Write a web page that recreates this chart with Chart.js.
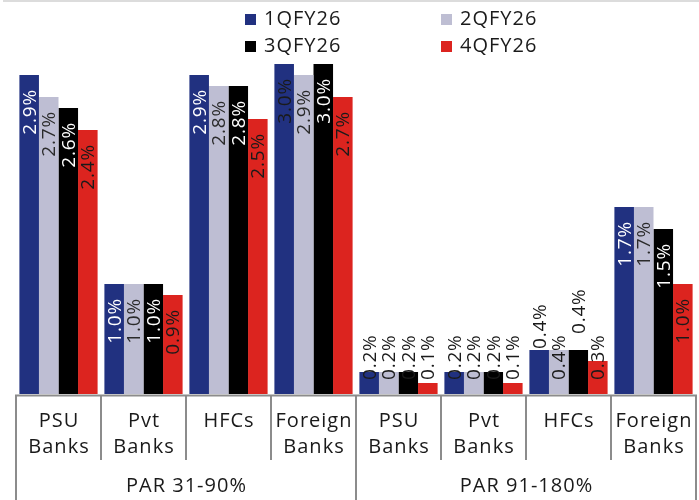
<!DOCTYPE html>
<html>
<head>
<meta charset="utf-8">
<script src="https://cdn.jsdelivr.net/npm/chart.js@4"></script>
<style>
  html, body { margin: 0; padding: 0; background: #fff; }
  #wrap { width: 699px; height: 500px; position: relative; }
</style>
</head>
<body>
<div id="wrap"><canvas id="chart" width="699" height="500"></canvas></div>
<script>
// Category labels (two lines each) and the two PAR buckets they belong to
const categories = [
  ['PSU', 'Banks'], ['Pvt', 'Banks'], ['HFCs'], ['Foreign', 'Banks'],
  ['PSU', 'Banks'], ['Pvt', 'Banks'], ['HFCs'], ['Foreign', 'Banks']
];
const groupLabels = ['PAR 31-90%', 'PAR 91-180%'];
const groupSize = 4;

// Quarterly series (%)
const seriesNames = ['1QFY26', '2QFY26', '3QFY26', '4QFY26'];
const q1FY26 = [2.9, 1.0, 2.9, 3.0, 0.2, 0.2, 0.4, 1.7];
const q2FY26 = [2.7, 1.0, 2.8, 2.9, 0.2, 0.2, 0.4, 1.7];
const q3FY26 = [2.6, 1.0, 2.8, 3.0, 0.2, 0.2, 0.4, 1.5];
const q4FY26 = [2.4, 0.9, 2.5, 2.7, 0.1, 0.1, 0.3, 1.0];

const seriesColors = ['#213180', '#bebed3', '#000000', '#dc241f'];
const labelColors = ['#ffffff', '#2a2a2a', '#ffffff', '#1a1a1a'];
const darkText = '#1a1a1a';
const FONT = '"Open Sans", Lato, sans-serif';

// Value labels drawn above their bar instead of inside: "dataset-index" -> gap in px
const labelsAbove = { '0-6': 1, '2-6': 16 };
const labelColorOverride = { '0-3': darkText };

function setSpacing(ctx, px) {
  if ('letterSpacing' in ctx) ctx.letterSpacing = px + 'px';
}

const valueLabels = {
  id: 'valueLabels',
  afterDatasetsDraw(chart) {
    const ctx = chart.ctx;
    ctx.save();
    ctx.font = '19px ' + FONT;
    setSpacing(ctx, 0.8);
    ctx.textAlign = 'left';
    ctx.textBaseline = 'middle';
    chart.data.datasets.forEach((ds, di) => {
      const meta = chart.getDatasetMeta(di);
      meta.data.forEach((bar, i) => {
        const text = ds.data[i].toFixed(1) + '%';
        const w = ctx.measureText(text).width;
        const top = bar.y;
        const base = bar.base;
        const key = di + '-' + i;
        let bottom, color;
        if (key in labelsAbove) {
          bottom = top - labelsAbove[key];
          color = darkText;
        } else {
          bottom = top + 14 + w;
          color = labelColors[di];
          if (bottom > base - 14) {
            bottom = base - 14;
            color = darkText;
          }
        }
        if (key in labelColorOverride) color = labelColorOverride[key];
        ctx.save();
        ctx.translate(bar.x + 1, bottom);
        ctx.rotate(-Math.PI / 2);
        ctx.fillStyle = color;
        ctx.fillText(text, 0, 0);
        ctx.restore();
      });
    });
    ctx.restore();
  }
};

const categoryAxis = {
  id: 'categoryAxis',
  afterDraw(chart) {
    const ctx = chart.ctx;
    const x = chart.scales.x;
    const area = chart.chartArea;
    const n = categories.length;
    const step = x.getPixelForValue(1) - x.getPixelForValue(0);
    const axisY = area.bottom + 1.5;
    ctx.save();
    // faint rule along the top edge
    ctx.strokeStyle = '#dcdcdc';
    ctx.lineWidth = 2;
    ctx.beginPath();
    ctx.moveTo(3, 1);
    ctx.lineTo(699, 1);
    ctx.stroke();

    ctx.strokeStyle = '#8c8c8c';
    ctx.lineWidth = 2;
    ctx.beginPath();
    ctx.moveTo(x.getPixelForValue(0) - step / 2 - 1, axisY);
    ctx.lineTo(x.getPixelForValue(n - 1) + step / 2 + 1, axisY);
    ctx.stroke();
    for (let i = 0; i <= n; i++) {
      const px = Math.round(x.getPixelForValue(i) - step / 2);
      const isGroupEdge = i % groupSize === 0;
      ctx.beginPath();
      ctx.moveTo(px, axisY);
      ctx.lineTo(px, isGroupEdge ? 500 : 460);
      ctx.stroke();
    }
    ctx.fillStyle = '#1a1a1a';
    ctx.font = '20px ' + FONT;
    setSpacing(ctx, 1);
    ctx.textAlign = 'center';
    ctx.textBaseline = 'alphabetic';
    categories.forEach((lines, i) => {
      const cx = x.getPixelForValue(i) + 0.5;
      lines.forEach((t, li) => ctx.fillText(t, cx, 427 + li * 26));
    });
    groupLabels.forEach((g, gi) => {
      const first = x.getPixelForValue(gi * groupSize);
      const last = x.getPixelForValue(gi * groupSize + groupSize - 1);
      ctx.fillText(g, (first + last) / 2 + 0.5, 492);
    });
    ctx.restore();
  }
};

const squareLegend = {
  id: 'squareLegend',
  afterDraw(chart) {
    const ctx = chart.ctx;
    const cols = [245, 441];
    const rows = [14, 41];
    ctx.save();
    ctx.font = '20px ' + FONT;
    setSpacing(ctx, 1);
    ctx.textBaseline = 'middle';
    ctx.textAlign = 'left';
    chart.data.datasets.forEach((ds, i) => {
      const lx = cols[i % 2];
      const ly = rows[Math.floor(i / 2)];
      ctx.fillStyle = ds.backgroundColor;
      ctx.fillRect(lx, ly, 11, 11);
      ctx.fillStyle = '#1a1a1a';
      ctx.fillText(ds.label, lx + 19, ly + 5);
    });
    ctx.restore();
  }
};

const seriesData = [q1FY26, q2FY26, q3FY26, q4FY26];

new Chart(document.getElementById('chart'), {
  type: 'bar',
  data: {
    labels: categories,
    datasets: seriesNames.map((name, i) => ({
      label: name,
      data: seriesData[i],
      backgroundColor: seriesColors[i],
      borderWidth: 0,
      categoryPercentage: 0.92,
      barPercentage: 1.0
    }))
  },
  options: {
    responsive: false,
    animation: false,
    devicePixelRatio: 1,
    layout: { padding: { top: 42, bottom: 106, left: 16, right: 3 } },
    plugins: {
      legend: { display: false },
      tooltip: { enabled: false }
    },
    scales: {
      x: { display: false },
      y: { display: false, min: 0, max: 3.2 }
    }
  },
  plugins: [valueLabels, categoryAxis, squareLegend]
});
</script>
</body>
</html>
